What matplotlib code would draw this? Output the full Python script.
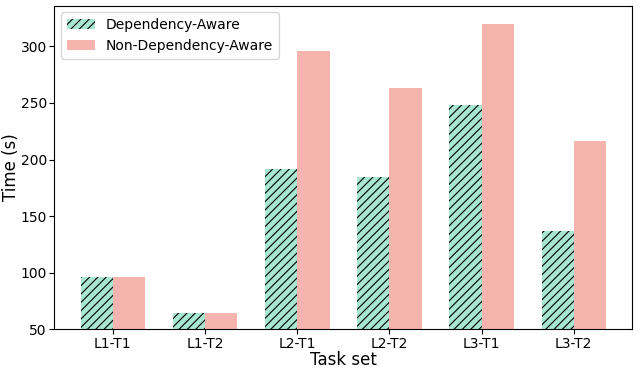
import matplotlib.pyplot as plt
import numpy as np

tasks = ['L1-T1', 'L1-T2', 'L2-T1', 'L2-T2', 'L3-T1', 'L3-T2']
dep_aware = [96.5, 64, 192, 184.5, 248, 136.5]
non_dep_aware = [96, 64, 296, 263.5, 320, 216]

plt.rcParams['hatch.linewidth'] = 0.8

x = np.arange(len(tasks))
w = 0.35

fig, ax = plt.subplots(figsize=(6.4, 3.7), dpi=100)
ax.bar(x - w/2, dep_aware, w, color='#a8e6d2', hatch='////', edgecolor='black',
       linewidth=0, label='Dependency-Aware')
ax.bar(x + w/2, non_dep_aware, w, color='#f5b5ae', label='Non-Dependency-Aware')
ax.set_xticks(x)
ax.set_xticklabels(tasks, fontsize=10)
ax.tick_params(axis='both', labelsize=10, pad=2)
ax.set_ylim(50, 336)
ax.set_xlabel('Task set', fontsize=12, labelpad=0)
ax.set_ylabel('Time (s)', fontsize=12, labelpad=0.5)
ax.legend(loc='upper left', fontsize=10)
fig.subplots_adjust(left=0.085, right=0.988, top=0.985, bottom=0.11)
fig.savefig('out.png')
